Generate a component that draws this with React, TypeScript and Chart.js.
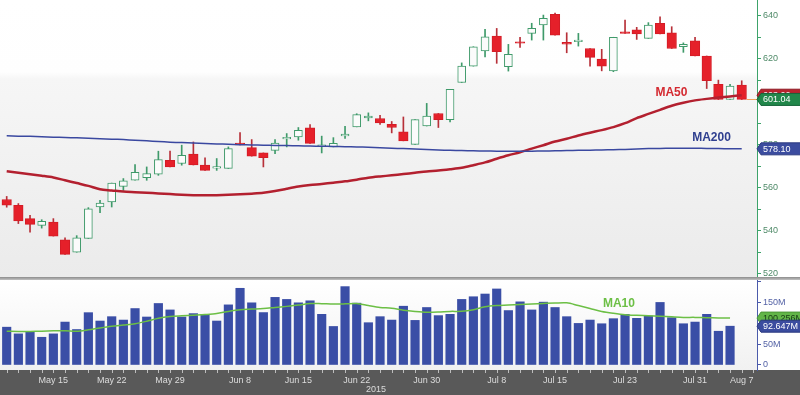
import React, { useEffect, useRef } from 'react';
import { Chart, registerables } from 'chart.js';

Chart.register(...registerables);

// ---------- DATA ----------
const OPEN = [
  554.6, 551.9, 545.7, 542.6, 544.1, 535.9, 530.1, 536.5,
  551.1, 553.4, 560.7, 563.5, 564.7, 566.3, 572.8, 571.3,
  575.7, 570.6, 569.1, 569.0, 580.8, 578.7, 576.2, 577.4,
  582.7, 583.6, 587.8, 579.3, 579.0, 584.1, 588.3, 592.5,
  592.2, 589.5, 586.0, 580.2, 588.7, 594.5, 591.7, 608.9,
  616.5, 623.6, 630.5, 616.2, 627.7, 631.7, 635.6, 640.6,
  627.5, 627.8, 624.7, 619.8, 614.3, 632.3, 633.3, 629.4,
  636.4, 632.0, 625.5, 628.3, 621.2, 608.1, 601.0, 607.7,
];
const HIGH = [
  556.0, 552.7, 547.2, 545.2, 545.7, 536.8, 537.8, 550.8,
  554.2, 562.2, 564.3, 570.8, 569.7, 577.0, 577.1, 579.8,
  581.3, 573.9, 573.6, 579.0, 585.7, 582.4, 576.2, 582.4,
  585.2, 588.0, 589.4, 584.0, 583.3, 588.6, 594.4, 594.8,
  593.7, 590.8, 592.9, 591.7, 599.2, 594.5, 605.7, 618.0,
  625.5, 633.6, 634.0, 626.6, 629.9, 636.4, 640.2, 641.1,
  632.0, 631.7, 624.7, 624.3, 629.9, 637.9, 634.5, 636.7,
  639.4, 634.8, 627.3, 629.9, 621.2, 610.0, 608.1, 609.7,
];
const LOW = [
  551.0, 543.4, 539.4, 541.3, 537.6, 529.1, 530.1, 536.5,
  548.5, 551.1, 558.8, 563.5, 563.5, 565.8, 569.7, 570.5,
  570.6, 568.1, 568.1, 569.0, 579.9, 574.7, 569.7, 575.9,
  579.0, 582.1, 580.6, 576.2, 579.0, 582.9, 588.3, 591.1,
  589.4, 585.5, 581.8, 580.2, 588.7, 588.0, 590.6, 608.9,
  616.5, 620.8, 617.8, 614.2, 625.2, 628.6, 628.6, 630.9,
  622.7, 625.8, 616.5, 614.3, 613.9, 631.7, 628.9, 629.4,
  631.4, 624.7, 622.9, 621.2, 606.1, 601.0, 601.0, 601.0,
];
const CLOSE = [
  552.0, 544.6, 543.0, 544.4, 537.6, 529.1, 536.8, 550.3,
  552.9, 562.2, 563.2, 567.2, 566.6, 573.1, 569.7, 575.1,
  570.6, 568.1, 569.9, 578.2, 579.9, 574.7, 574.0, 580.8,
  583.3, 586.7, 580.6, 579.9, 580.6, 584.9, 594.0, 593.3,
  590.1, 588.0, 581.8, 591.7, 593.3, 591.7, 605.7, 616.5,
  625.5, 630.1, 623.2, 622.0, 627.1, 634.0, 638.7, 630.9,
  626.7, 628.6, 620.6, 616.5, 629.9, 631.7, 631.4, 635.6,
  631.4, 624.7, 626.6, 621.2, 609.7, 601.0, 607.2, 601.04,
];
const MA50 = [
  567.7, 567.0, 566.3, 565.6, 564.8, 563.5, 562.2, 560.9,
  559.3, 558.8, 558.3, 558.0, 557.7, 557.4, 557.1, 556.8,
  556.6, 556.5, 556.6, 556.8, 557.0, 557.3, 557.7, 558.5,
  559.6, 560.6, 561.3, 561.8, 562.4, 563.0, 563.8, 564.7,
  565.3, 565.8, 566.4, 567.0, 567.6, 568.0, 568.6, 569.3,
  570.5, 571.8, 573.5, 575.1, 576.5, 578.2, 579.8, 581.5,
  582.8, 584.3, 585.6, 586.8, 588.2, 590.0, 592.4, 594.3,
  596.2, 598.1, 599.5, 600.6, 601.3, 601.9, 602.4, 603.0,
];
const MA200 = [
  584.2, 584.0, 583.9, 583.7, 583.5, 583.4, 583.2, 583.0,
  582.8, 582.6, 582.4, 582.1, 581.8, 581.5, 581.2, 581.0,
  580.8, 580.6, 580.4, 580.2, 580.0, 579.9, 579.8, 579.7,
  579.6, 579.5, 579.4, 579.3, 579.2, 579.1, 579.0, 578.8,
  578.6, 578.4, 578.2, 578.0, 577.8, 577.6, 577.4, 577.3,
  577.2, 577.1, 577.0, 577.0, 577.0, 577.0, 577.1, 577.2,
  577.3, 577.4, 577.5, 577.6, 577.7, 577.8, 578.0, 578.2,
  578.3, 578.4, 578.4, 578.4, 578.3, 578.2, 578.1, 578.1,
];
// volume in millions
const VOLUME = [
  90.3, 74.3, 78.3, 66.2, 74.3, 102.5, 84.7, 125.0,
  105.0, 115.4, 107.3, 134.8, 114.6, 146.9, 131.5, 114.6,
  122.7, 121.0, 105.0, 143.6, 183.2, 148.5, 125.2, 161.5,
  156.6, 148.5, 153.3, 121.0, 92.0, 187.2, 147.7, 101.0,
  115.4, 107.3, 140.4, 106.5, 137.3, 117.9, 121.0, 156.6,
  163.0, 169.5, 181.6, 130.0, 150.8, 131.5, 150.1, 137.3,
  115.4, 99.3, 107.3, 98.5, 110.6, 121.0, 111.4, 117.0,
  149.4, 113.0, 98.5, 102.5, 121.0, 80.6, 92.647,
];
const VOL_MA10 = [
  80.5, 80.0, 80.2, 80.8, 81.5, 82.0, 80.5, 84.0,
  88.5, 92.5, 95.5, 98.6, 104.5, 111.5, 115.6, 117.5,
  119.0, 120.5, 122.8, 128.0, 132.0, 133.5, 135.0, 137.5,
  140.0, 143.0, 147.0, 146.5, 145.5, 146.0, 147.0, 142.0,
  137.5, 135.6, 131.0, 128.0, 126.0, 126.5, 128.0, 128.3,
  132.0, 139.0, 141.9, 143.0, 144.5, 145.9, 147.0, 148.0,
  148.4, 141.9, 135.0, 128.0, 123.5, 120.0, 118.5, 117.6,
  116.5, 115.0, 113.7, 113.7, 112.8, 112.4, 112.0,
];
const PRICE_TICKS = [520, 530, 540, 550, 560, 570, 580, 590, 600, 610, 620, 630, 640];
const VOLUME_TICKS = [0, 50, 100, 150, 200];
const DATE_TICKS = [4, 9, 14, 20, 25, 30, 36, 42, 47, 53, 59, 63];
const DATE_LABELS = ['May 15', 'May 22', 'May 29', 'Jun 8', 'Jun 15', 'Jun 22', 'Jun 30', 'Jul 8', 'Jul 15', 'Jul 23', 'Jul 31', 'Aug 7'];
const YEAR_LABEL = '2015';
const MA10_BADGE = '100.256M';

// ---------- STYLE ----------
const FONT = "'Liberation Sans', Arial, Helvetica, sans-serif";
const X_MIN = -0.574;
const X_MAX = 64.31;
const UP = '#3f9a6a';
const DOWN = '#e5202a';
const DOWN_WICK = '#b73039';

function drawBadge(ctx: CanvasRenderingContext2D, xTip: number, y: number, text: string, fill: string, stroke: string, color: string) {
  const h = 12;
  const x0 = xTip + 4;
  ctx.save();
  ctx.beginPath();
  ctx.moveTo(xTip, y);
  ctx.lineTo(x0, y - h / 2);
  ctx.lineTo(801, y - h / 2);
  ctx.lineTo(801, y + h / 2);
  ctx.lineTo(x0, y + h / 2);
  ctx.closePath();
  ctx.fillStyle = fill;
  ctx.fill();
  ctx.strokeStyle = stroke;
  ctx.lineWidth = 1;
  ctx.stroke();
  ctx.fillStyle = color;
  ctx.font = `9px ${FONT}`;
  ctx.textBaseline = 'middle';
  ctx.textAlign = 'left';
  ctx.fillText(text, x0 + 2, y + 0.5);
  ctx.restore();
}

const priceDecor = {
  id: 'priceDecor',
  beforeDraw(chart: any) {
    const { ctx, chartArea: ca, width, height } = chart;
    ctx.save();
    ctx.fillStyle = '#ffffff';
    ctx.fillRect(0, 0, width, height);
    const g = ctx.createLinearGradient(0, ca.top, 0, ca.bottom);
    g.addColorStop(0, '#ffffff');
    g.addColorStop(0.26, '#fefefe');
    g.addColorStop(0.285, '#f6f6f6');
    g.addColorStop(1, '#ebebeb');
    ctx.fillStyle = g;
    ctx.fillRect(ca.left, ca.top, ca.right - ca.left, ca.bottom - ca.top);
    ctx.restore();
  },
  afterDraw(chart: any) {
    const { ctx, chartArea: ca } = chart;
    const x = chart.scales.x;
    const y = chart.scales.y;
    const last = CLOSE.length - 1;
    const yLast = y.getPixelForValue(CLOSE[last]);
    ctx.save();
    ctx.strokeStyle = '#f2a25c';
    ctx.lineWidth = 1;
    ctx.beginPath();
    ctx.moveTo(x.getPixelForValue(last) + 5, Math.round(yLast) + 0.5);
    ctx.lineTo(ca.right, Math.round(yLast) + 0.5);
    ctx.stroke();

    ctx.font = `bold 12px ${FONT}`;
    ctx.textBaseline = 'middle';
    ctx.textAlign = 'left';
    ctx.fillStyle = '#d42a31';
    ctx.fillText('MA50', x.getPixelForValue(55.6), y.getPixelForValue(604.0));
    ctx.fillStyle = '#2f3f8f';
    ctx.fillText('MA200', x.getPixelForValue(58.75), y.getPixelForValue(583.1));
    ctx.restore();

    drawBadge(ctx, ca.right, y.getPixelForValue(MA50[last]), MA50[last].toFixed(2), '#b8232e', '#8e1a22', '#ffffff');
    drawBadge(ctx, ca.right, yLast, CLOSE[last].toFixed(2), '#21874a', '#16653a', '#ffffff');
    drawBadge(ctx, ca.right, y.getPixelForValue(MA200[last]), MA200[last].toFixed(2), '#3b4c9f', '#2c3a80', '#ffffff');
  },
};

const volumeDecor = {
  id: 'volumeDecor',
  beforeDraw(chart: any) {
    const { ctx, chartArea: ca, width, height } = chart;
    ctx.save();
    ctx.fillStyle = '#ffffff';
    ctx.fillRect(0, 0, width, height);
    const g = ctx.createLinearGradient(0, ca.top, 0, ca.bottom);
    g.addColorStop(0, '#ffffff');
    g.addColorStop(1, '#f1f1f1');
    ctx.fillStyle = g;
    ctx.fillRect(ca.left, ca.top, ca.right - ca.left, ca.bottom - ca.top);
    ctx.fillStyle = '#595959';
    ctx.fillRect(0, ca.bottom, width, height - ca.bottom);
    ctx.restore();
  },
  afterDraw(chart: any) {
    const { ctx, chartArea: ca } = chart;
    const x = chart.scales.x;
    const y = chart.scales.y;
    ctx.save();
    ctx.strokeStyle = '#bdbdbd';
    ctx.lineWidth = 1;
    for (let i = 0; i <= 64; i++) {
      const px = Math.round(x.getPixelForValue(i)) + 0.5;
      if (px > ca.right) break;
      ctx.beginPath();
      ctx.moveTo(px, ca.bottom);
      ctx.lineTo(px, ca.bottom + 3);
      ctx.stroke();
    }
    ctx.fillStyle = '#dcdcdc';
    ctx.font = `9px ${FONT}`;
    ctx.textAlign = 'center';
    ctx.textBaseline = 'middle';
    ctx.fillText(YEAR_LABEL, x.getPixelForValue(31.65), ca.bottom + 20);

    ctx.font = `bold 12px ${FONT}`;
    ctx.textAlign = 'left';
    ctx.fillStyle = '#6cbf45';
    ctx.fillText('MA10', x.getPixelForValue(51.1), y.getPixelForValue(145.7));
    ctx.restore();

    const last = VOLUME.length - 1;
    drawBadge(ctx, ca.right, y.getPixelForValue(VOL_MA10[VOL_MA10.length - 1]), MA10_BADGE, '#62b548', '#4a9636', '#173a14');
    drawBadge(ctx, ca.right, y.getPixelForValue(VOLUME[last]), VOLUME[last].toFixed(3) + 'M', '#3b4c9f', '#2c3a80', '#ffffff');
  },
};

export default function App() {
  const priceRef = useRef<HTMLCanvasElement>(null);
  const volRef = useRef<HTMLCanvasElement>(null);

  useEffect(() => {
    Chart.defaults.font.family = FONT;
    const idx = OPEN.map((_, i) => i);
    const isUp = (i: number) => CLOSE[i] >= OPEN[i];
    const upIdx = idx.filter((i) => isUp(i));
    const downIdx = idx.filter((i) => !isUp(i));

    const priceChart = new Chart(priceRef.current as HTMLCanvasElement, {
      type: 'bar',
      data: {
        datasets: [
          {
            type: 'line',
            label: 'MA200',
            data: MA200.map((v, i) => ({ x: i, y: v })),
            borderColor: '#3a48a0',
            borderWidth: 1.5,
            pointRadius: 0,
            tension: 0.3,
            order: 0,
          } as any,
          {
            type: 'line',
            label: 'MA50',
            data: MA50.map((v, i) => ({ x: i, y: v })),
            borderColor: '#b3202f',
            borderWidth: 2.5,
            pointRadius: 0,
            tension: 0.3,
            order: 0,
          } as any,
          {
            type: 'bar',
            label: 'wick',
            data: idx.map((i) => ({ x: i, y: [LOW[i], HIGH[i]] })),
            backgroundColor: idx.map((i) => (isUp(i) ? UP : DOWN_WICK)),
            barThickness: 1,
            grouped: false,
            order: 3,
          } as any,
          {
            type: 'bar',
            label: 'up',
            data: upIdx.map((i) => ({ x: i, y: [OPEN[i], CLOSE[i]] })),
            backgroundColor: '#fbfbfb',
            borderColor: UP,
            borderWidth: 1,
            borderSkipped: false,
            barThickness: 8,
            minBarLength: 1.5,
            grouped: false,
            order: 1,
          } as any,
          {
            type: 'bar',
            label: 'down',
            data: downIdx.map((i) => ({ x: i, y: [OPEN[i], CLOSE[i]] })),
            backgroundColor: DOWN,
            borderColor: '#d41c26',
            borderWidth: 1,
            borderSkipped: false,
            barThickness: 9.5,
            minBarLength: 1.5,
            grouped: false,
            order: 2,
          } as any,
        ],
      },
      options: {
        animation: false,
        responsive: false,
        maintainAspectRatio: false,
        layout: { padding: 0 },
        plugins: { legend: { display: false }, tooltip: { enabled: false } },
        scales: {
          x: {
            type: 'linear',
            min: X_MIN,
            max: X_MAX,
            display: false,
            offset: false,
          },
          y: {
            position: 'right',
            min: 518.6,
            max: 647.2,
            afterBuildTicks: (s: any) => {
              s.ticks = PRICE_TICKS.map((v) => ({ value: v }));
            },
            afterFit: (s: any) => {
              s.width = 43;
              s.paddingTop = 0;
              s.paddingBottom = 0;
            },
            ticks: {
              autoSkip: false,
              padding: 2,
              color: '#4f8a68',
              font: { size: 9, family: FONT },
              callback: (v: any) => (Number(v) % 20 === 0 ? String(v) : ''),
            },
            grid: { drawOnChartArea: false, drawTicks: true, tickLength: 4, color: '#3da36a' },
            border: { color: '#3da36a', width: 1 },
          },
        },
      } as any,
      plugins: [priceDecor],
    });

    const vIdx = VOLUME.map((_, i) => i);
    const volChart = new Chart(volRef.current as HTMLCanvasElement, {
      type: 'bar',
      data: {
        datasets: [
          {
            type: 'line',
            label: 'MA10',
            data: VOL_MA10.map((v, i) => ({ x: i, y: v })),
            borderColor: '#6cbf45',
            borderWidth: 1.5,
            pointRadius: 0,
            tension: 0.3,
            order: 0,
          } as any,
          {
            type: 'bar',
            label: 'Volume',
            data: vIdx.map((i) => ({ x: i, y: VOLUME[i] })),
            backgroundColor: '#3a4ea6',
            barThickness: 8.5,
            grouped: false,
            order: 1,
          } as any,
        ],
      },
      options: {
        animation: false,
        responsive: false,
        maintainAspectRatio: false,
        layout: { padding: 0 },
        plugins: { legend: { display: false }, tooltip: { enabled: false } },
        scales: {
          x: {
            type: 'linear',
            position: 'bottom',
            min: X_MIN,
            max: X_MAX,
            offset: false,
            afterBuildTicks: (s: any) => {
              s.ticks = DATE_TICKS.map((v) => ({ value: v }));
            },
            afterFit: (s: any) => {
              s.height = 25;
              s.paddingLeft = 0;
              s.paddingRight = 0;
            },
            ticks: {
              autoSkip: false,
              maxRotation: 0,
              padding: 5,
              color: '#dddddd',
              font: { size: 9, family: FONT },
              callback: (v: any) => {
                const k = DATE_TICKS.indexOf(Number(v));
                return k >= 0 ? DATE_LABELS[k] : '';
              },
            },
            grid: { display: false, drawTicks: false },
            border: { display: false },
          },
          y: {
            position: 'right',
            min: -12,
            max: 203,
            afterBuildTicks: (s: any) => {
              s.ticks = VOLUME_TICKS.map((v) => ({ value: v }));
            },
            afterFit: (s: any) => {
              s.width = 43;
              s.paddingTop = 0;
              s.paddingBottom = 0;
            },
            ticks: {
              autoSkip: false,
              padding: 2,
              color: '#5563a6',
              font: { size: 9, family: FONT },
              callback: (v: any) => {
                const n = Number(v);
                if (n === 0) return '0';
                if (n >= 200) return '';
                return n + 'M';
              },
            },
            grid: { drawOnChartArea: false, drawTicks: true, tickLength: 4, color: '#4b5bab' },
            border: { color: '#4b5bab', width: 1 },
          },
        },
      } as any,
      plugins: [volumeDecor],
    });

    return () => {
      priceChart.destroy();
      volChart.destroy();
    };
  }, []);

  return (
    <div style={{ position: 'fixed', left: 0, top: 0, width: 800, height: 395, background: '#ffffff', overflow: 'hidden' }}>
      <canvas ref={priceRef} width={800} height={277} style={{ position: 'absolute', left: 0, top: 0, display: 'block' }} />
      <div style={{ position: 'absolute', left: 0, top: 277, width: 800, height: 3, background: 'linear-gradient(#8c8c8c, #c2c2c2)' }} />
      <canvas ref={volRef} width={800} height={115} style={{ position: 'absolute', left: 0, top: 280, display: 'block' }} />
    </div>
  );
}
